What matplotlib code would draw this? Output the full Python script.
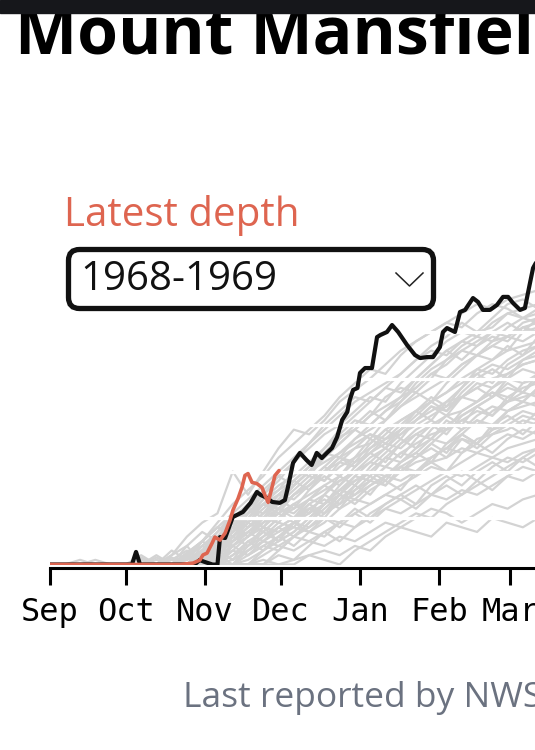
import matplotlib.pyplot as plt
from matplotlib.patches import FancyBboxPatch, Rectangle

# x axis: days since Sep 1
months = ["Sep", "Oct", "Nov", "Dec", "Jan", "Feb", "Mar"]
month_days = [0, 30, 61, 91, 122, 153, 181]
grid_levels = [20, 40, 60, 80, 100]

# historical seasons (snow depth, inches), sampled every 6 days
gray_days = list(range(0, 193, 6))
gray_seasons = [
    [0, 0, 0, 0, 0, 0, 2, 0, 4, 12, 18, 22, 40, 30, 40, 50, 58, 56, 62, 70, 75, 80, 86, 92, 96, 100, 104, 108, 112, 110, 114, 116, 118],
    [0, 0, 0, 0, 0, 0, 0, 0, 0, 3, 8, 14, 20, 26, 30, 38, 44, 50, 56, 60, 66, 72, 70, 78, 84, 90, 96, 100, 98, 104, 108, 106, 110],
    [0, 0, 0, 2, 0, 0, 0, 3, 0, 5, 10, 16, 14, 22, 28, 32, 36, 42, 48, 55, 58, 64, 68, 72, 80, 86, 92, 88, 94, 98, 96, 102, 100],
    [0, 0, 0, 0, 0, 0, 0, 0, 0, 0, 4, 10, 18, 24, 22, 28, 34, 40, 44, 48, 54, 58, 62, 68, 72, 76, 80, 86, 90, 88, 92, 94, 96],
    [0, 0, 0, 0, 0, 0, 0, 0, 2, 6, 2, 8, 12, 18, 24, 30, 28, 34, 40, 46, 50, 52, 58, 62, 66, 70, 74, 78, 82, 86, 84, 88, 90],
    [0, 0, 0, 0, 0, 0, 4, 0, 0, 0, 6, 12, 20, 16, 22, 26, 32, 38, 36, 42, 46, 50, 54, 58, 62, 66, 70, 72, 76, 80, 82, 86, 88],
    [0, 0, 0, 0, 0, 0, 0, 0, 0, 8, 14, 10, 16, 22, 26, 24, 30, 34, 40, 44, 42, 48, 54, 56, 60, 64, 68, 72, 70, 76, 80, 78, 82],
    [0, 0, 0, 0, 0, 0, 0, 0, 0, 0, 0, 6, 10, 14, 18, 22, 26, 30, 34, 38, 44, 48, 52, 50, 56, 60, 64, 66, 70, 74, 72, 76, 78],
    [0, 0, 0, 0, 0, 0, 0, 2, 0, 4, 8, 12, 10, 16, 20, 24, 22, 28, 32, 36, 40, 44, 42, 48, 52, 56, 58, 62, 66, 64, 70, 72, 74],
    [0, 0, 0, 0, 0, 0, 0, 0, 0, 0, 2, 6, 12, 18, 14, 20, 24, 28, 26, 32, 36, 40, 46, 44, 50, 54, 52, 58, 62, 60, 66, 68, 70],
    [0, 0, 0, 0, 0, 0, 0, 0, 3, 0, 0, 4, 8, 12, 16, 14, 18, 22, 26, 30, 28, 34, 38, 42, 40, 46, 50, 54, 52, 58, 60, 64, 62],
    [0, 0, 0, 0, 0, 0, 0, 0, 0, 0, 0, 0, 4, 8, 12, 16, 20, 24, 22, 28, 32, 36, 34, 40, 44, 46, 50, 48, 54, 56, 58, 62, 60],
    [0, 0, 0, 0, 0, 0, 0, 0, 0, 5, 10, 6, 2, 6, 10, 14, 18, 16, 22, 26, 30, 34, 38, 36, 40, 44, 46, 50, 48, 52, 56, 54, 58],
    [0, 0, 0, 0, 0, 0, 0, 0, 0, 0, 0, 3, 6, 4, 8, 12, 16, 14, 18, 24, 28, 26, 30, 34, 38, 42, 40, 44, 48, 46, 50, 52, 54],
    [0, 0, 0, 0, 0, 0, 0, 0, 0, 0, 0, 0, 0, 4, 8, 6, 12, 16, 20, 18, 22, 26, 30, 28, 32, 36, 40, 38, 42, 46, 44, 48, 50],
    [0, 0, 0, 0, 0, 0, 0, 0, 0, 0, 4, 8, 14, 20, 28, 34, 38, 44, 50, 56, 62, 60, 66, 72, 76, 82, 86, 92, 96, 100, 98, 104, 106],
    [0, 0, 0, 0, 0, 0, 0, 0, 0, 2, 6, 4, 10, 16, 22, 30, 36, 42, 46, 52, 58, 64, 72, 76, 74, 80, 88, 94, 98, 96, 102, 106, 104],
    [0, 0, 0, 0, 0, 0, 0, 0, 0, 0, 0, 0, 2, 6, 10, 8, 12, 10, 14, 18, 16, 20, 24, 22, 26, 30, 28, 32, 30, 34, 38, 36, 40],
    [0, 0, 0, 0, 0, 0, 0, 0, 0, 0, 0, 0, 0, 0, 4, 8, 6, 10, 8, 12, 10, 14, 18, 16, 20, 24, 22, 18, 22, 26, 24, 28, 30],
    [0, 0, 0, 0, 0, 0, 0, 0, 0, 0, 0, 0, 0, 0, 0, 0, 2, 4, 6, 4, 8, 6, 12, 16, 14, 12, 18, 16, 14, 20, 18, 16, 20],
    [0, 0, 0, 0, 0, 0, 0, 0, 0, 0, 0, 0, 0, 0, 2, 0, 0, 4, 2, 0, 6, 10, 14, 18, 22, 20, 26, 30, 34, 38, 42, 46, 50],
    [0, 0, 2, 0, 0, 0, 0, 0, 0, 0, 0, 2, 8, 14, 20, 26, 34, 40, 48, 46, 54, 60, 66, 70, 76, 82, 80, 86, 90, 94, 98, 96, 100],
    [0, 0, 0, 0, 0, 0, 0, 0, 0, 0, 6, 14, 22, 28, 34, 40, 46, 52, 58, 64, 70, 74, 78, 82, 88, 92, 90, 96, 100, 102, 108, 110, 112],
    [0, 0, 0, 0, 0, 0, 0, 0, 0, 0, 0, 0, 6, 12, 18, 24, 30, 36, 42, 48, 52, 56, 54, 60, 66, 70, 74, 80, 84, 82, 88, 92, 94],
    [0, 0, 0, 0, 0, 0, 2, 0, 0, 0, 0, 0, 0, 2, 6, 10, 14, 20, 26, 32, 38, 44, 50, 56, 62, 68, 66, 72, 78, 76, 82, 86, 88],
    [0, 0, 0, 0, 0, 0, 0, 0, 0, 0, 0, 0, 8, 4, 10, 16, 12, 18, 24, 30, 36, 40, 38, 44, 48, 54, 60, 64, 68, 72, 76, 74, 80],
    [0, 0, 0, 0, 0, 0, 0, 0, 0, 0, 0, 0, 0, 0, 0, 6, 12, 18, 26, 32, 30, 36, 42, 48, 46, 52, 58, 62, 60, 66, 70, 74, 72],
    [0, 0, 0, 0, 0, 0, 0, 0, 4, 8, 0, 4, 12, 20, 16, 10, 14, 20, 26, 34, 40, 38, 46, 52, 56, 54, 62, 58, 64, 68, 66, 70, 76],
    [0, 0, 0, 0, 0, 0, 0, 0, 6, 2, 10, 16, 22, 18, 26, 30, 36, 32, 40, 46, 44, 52, 58, 54, 62, 68, 64, 72, 76, 72, 80, 84, 82],
    [0, 0, 0, 0, 0, 0, 0, 0, 0, 0, 0, 10, 18, 12, 20, 28, 24, 32, 38, 34, 42, 48, 44, 52, 58, 62, 58, 66, 70, 74, 70, 78, 80],
    [0, 0, 0, 0, 0, 0, 0, 0, 0, 0, 8, 4, 12, 8, 16, 22, 18, 26, 30, 26, 34, 40, 36, 44, 48, 44, 52, 56, 52, 60, 64, 60, 66],
    [0, 0, 0, 0, 0, 0, 0, 0, 0, 3, 0, 6, 2, 10, 14, 10, 18, 24, 20, 28, 34, 30, 38, 42, 38, 46, 50, 56, 52, 58, 62, 66, 64],
    [0, 0, 0, 0, 0, 0, 0, 0, 0, 0, 0, 0, 10, 16, 20, 18, 26, 22, 30, 36, 40, 46, 50, 46, 54, 60, 56, 64, 68, 64, 72, 70, 76],
    [0, 0, 0, 0, 0, 0, 0, 0, 0, 0, 5, 12, 8, 14, 10, 16, 20, 26, 22, 30, 26, 32, 36, 32, 40, 44, 40, 48, 52, 48, 54, 58, 56],
    [0, 0, 0, 0, 0, 0, 0, 0, 0, 0, 0, 4, 0, 6, 12, 18, 16, 24, 28, 24, 32, 38, 34, 42, 46, 52, 48, 56, 62, 58, 66, 70, 68],
    [0, 0, 0, 0, 0, 0, 0, 0, 0, 0, 0, 0, 0, 8, 14, 20, 26, 22, 30, 38, 34, 42, 48, 54, 50, 58, 64, 60, 68, 72, 78, 74, 82],
    [0, 0, 0, 0, 0, 0, 0, 4, 0, 0, 6, 12, 18, 24, 30, 26, 34, 40, 36, 44, 50, 56, 52, 58, 64, 70, 66, 74, 80, 84, 80, 88, 92],
    [0, 0, 0, 0, 0, 0, 0, 0, 0, 0, 0, 0, 0, 0, 0, 4, 2, 8, 14, 10, 16, 22, 26, 30, 26, 34, 38, 34, 40, 44, 40, 46, 42],
    [0, 0, 0, 0, 0, 0, 0, 0, 0, 2, 6, 10, 16, 12, 18, 24, 20, 28, 34, 30, 38, 36, 42, 40, 46, 50, 46, 54, 50, 56, 60, 56, 62],
    [0, 0, 0, 0, 0, 0, 0, 0, 0, 0, 0, 6, 14, 20, 16, 24, 30, 34, 40, 46, 42, 50, 56, 62, 66, 62, 70, 76, 82, 78, 86, 90, 94],
    [0, 0, 0, 0, 0, 0, 0, 0, 0, 0, 0, 0, 4, 10, 6, 12, 8, 14, 12, 18, 24, 20, 26, 30, 34, 30, 36, 40, 36, 42, 46, 44, 48],
    [0, 0, 0, 0, 0, 0, 3, 0, 0, 4, 10, 16, 12, 20, 26, 22, 30, 36, 42, 38, 46, 54, 50, 58, 66, 72, 68, 76, 84, 88, 94, 90, 98],
    [0, 0, 0, 0, 0, 0, 0, 0, 0, 0, 0, 0, 0, 0, 6, 12, 18, 14, 20, 16, 22, 18, 24, 28, 24, 30, 34, 30, 36, 32, 38, 42, 40],
    [0, 0, 0, 0, 0, 0, 0, 0, 0, 0, 0, 8, 16, 24, 32, 38, 34, 40, 46, 52, 58, 54, 62, 68, 74, 70, 78, 84, 90, 94, 92, 100, 102],
    [0, 0, 0, 0, 0, 0, 0, 0, 0, 4, 10, 18, 26, 32, 38, 46, 52, 58, 64, 72, 78, 84, 82, 90, 96, 100, 104, 102, 108, 112, 110, 106, 108],
    [0, 0, 0, 0, 0, 0, 0, 0, 0, 0, 0, 6, 14, 22, 30, 36, 44, 52, 60, 66, 72, 70, 76, 82, 88, 94, 98, 104, 100, 106, 112, 114, 110],
    [0, 0, 0, 0, 0, 0, 0, 0, 0, 0, 3, 8, 16, 24, 20, 28, 36, 42, 50, 58, 64, 70, 76, 74, 80, 86, 92, 96, 94, 100, 104, 100, 106],
    [0, 0, 0, 0, 0, 0, 0, 0, 2, 0, 6, 12, 10, 18, 26, 32, 40, 38, 46, 54, 60, 66, 62, 70, 78, 84, 88, 92, 90, 96, 98, 102, 104],
]

# selected season 1968-1969
black_days = [0, 30, 32.4, 34, 35.6, 57, 59, 61, 64, 66, 67, 69, 72, 76, 79, 81.5, 83, 85.5, 87.5,
              90.5, 92.5, 93.7, 95.7, 98.4, 101, 103, 105, 107, 109, 111, 113, 115, 117, 118, 119.3,
              121, 122, 124, 126.7, 128.7, 130, 132.6, 134.6, 137, 140.5, 143.6, 145.6, 148.3, 150.7,
              153.4, 154.6, 156.2, 159.3, 161.3, 163.3, 166.4, 168.4, 170.3, 173.1, 175.8, 178.2,
              180.2, 182.1, 184.9, 186.8, 188.8, 190, 191, 193]
black_vals = [0, 0, 0, 5.4, 0, 0, 1.9, 1.1, 0, 0, 11.8, 11.4, 20.4, 22.6, 26.5, 31.2, 29.9, 28.6, 26.9,
              26.5, 27.7, 33.3, 43.7, 48, 44.9, 42.8, 48, 45.8, 48, 50.1, 54.8, 62.2, 65.6, 70.8, 75.1,
              75.9, 82.4, 84.5, 84.5, 97.8, 98.7, 100, 103, 100, 94.4, 90.1, 88.8, 89.2, 89.2,
              93.5, 100, 101.7, 100, 108.6, 109.5, 114.6, 112.9, 109.5, 109.5, 111.6, 115.1,
              115.1, 112.5, 109.5, 110.3, 121.1, 127.5, 129.5, 133]

# latest season
red_days = [0, 51.3, 56.4, 59.1, 60.3, 61.9, 63.9, 65, 67, 69, 70.9, 72.1, 74.1, 75.6, 76.8, 78,
            79.6, 81.5, 83.5, 84.7, 85.9, 87.4, 88.6, 90.2]
red_vals = [0, 0, 0.6, 1.9, 4.1, 4.9, 9.2, 11.8, 10.5, 13.5, 19, 23.4, 28.4, 33.1, 38.3, 39.1,
            35.3, 34.8, 33.1, 29.7, 26.7, 33.1, 38.3, 40.4]

red = "#de6550"
W, H = 535, 750

fig = plt.figure(figsize=(W / 100, H / 100), dpi=100)
fig.patch.set_facecolor("white")

# main chart, placed in pixel terms
x0, y0, ytop = 49.5, 564.5, 240
ax = fig.add_axes([x0 / W, (H - y0) / H, (W - x0) / W, (y0 - ytop) / H])
for s in gray_seasons:
    ax.plot(gray_days, s, color="#d3d3d3", lw=1.6, zorder=1)
for g in grid_levels:
    ax.axhline(g, color="white", lw=2.3, zorder=2)
ax.plot(black_days, black_vals, color="#111111", lw=3.0, zorder=3,
        solid_joinstyle="round", solid_capstyle="round")
ax.plot(red_days, red_vals, color=red, lw=2.6, zorder=4,
        solid_joinstyle="round", solid_capstyle="round")

ax.set_xlim(0, (W - x0) / 2.545)
ax.set_ylim(0, (y0 - ytop) / 2.325)
for side in ["left", "right", "top"]:
    ax.spines[side].set_visible(False)
ax.spines["bottom"].set_position(("outward", 2.2))
ax.spines["bottom"].set_linewidth(2.2)
ax.set_xticks(month_days)
ax.set_xticklabels(months, fontfamily="DejaVu Sans Mono", fontsize=23)
ax.tick_params(axis="x", length=12, width=2.2, pad=9, color="black")
ax.tick_params(axis="y", left=False, labelleft=False)
ax.patch.set_alpha(0)

# overlay for page elements, in pixel coordinates
ov = fig.add_axes([0, 0, 1, 1])
ov.set_xlim(0, W)
ov.set_ylim(H, 0)
ov.axis("off")

ov.text(15, 53, "Mount Mansfield", fontsize=47.5, fontweight="bold",
        family="Open Sans", va="baseline", ha="left")
ov.add_patch(Rectangle((0, 0), W, 13, color="#16171b", zorder=5))

ov.text(64, 226, "Latest depth", fontsize=29, color=red, family="Open Sans",
        va="baseline", ha="left")

box = FancyBboxPatch((68.5, 249.5), 365, 59, boxstyle="round,pad=0,rounding_size=11",
                     fc="white", ec="#111111", lw=3.8, zorder=3)
ov.add_patch(box)
ov.text(80, 290, "1968-1969", fontsize=29, color="#111111", family="Open Sans",
        va="baseline", ha="left", zorder=4)
ov.plot([396, 409.5, 423], [273, 286, 273], color="#222222", lw=1.1, zorder=4)

ov.text(183, 707, "Last reported by NWS", fontsize=25.5, color="#6b7280",
        family="Open Sans", va="baseline", ha="left")

fig.savefig("out.png", dpi=100)
